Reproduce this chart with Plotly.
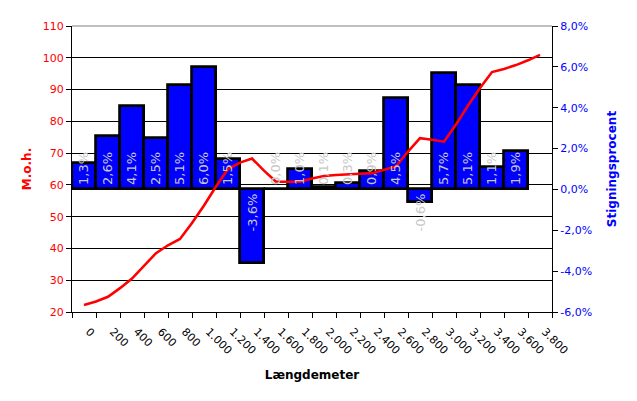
import plotly.graph_objects as go

# --- data ---
tick_meters = [0, 200, 400, 600, 800, 1000, 1200, 1400, 1600, 1800,
               2000, 2200, 2400, 2600, 2800, 3000, 3200, 3400, 3600, 3800]
tick_labels = ["0", "200", "400", "600", "800", "1.000", "1.200", "1.400", "1.600", "1.800",
               "2.000", "2.200", "2.400", "2.600", "2.800", "3.000", "3.200", "3.400", "3.600", "3.800"]

bar_meters = [0, 200, 400, 600, 800, 1000, 1200, 1400, 1600, 1800,
              2000, 2200, 2400, 2600, 2800, 3000, 3200, 3400, 3600]
stigning = [1.3, 2.6, 4.1, 2.5, 5.1, 6.0, 1.5, -3.6, 0.0, 1.0,
            0.1, 0.3, 0.9, 4.5, -0.6, 5.7, 5.1, 1.1, 1.9]

line_meters = [0, 100, 200, 300, 400, 500, 600, 700, 800, 900, 1000, 1100, 1200, 1300,
               1400, 1500, 1600, 1700, 1800, 1900, 2000, 2100, 2200, 2300, 2400, 2500,
               2600, 2700, 2800, 2900, 3000, 3100, 3200, 3300, 3400, 3500, 3600, 3700, 3800]
moh = [22.2, 23.3, 24.8, 27.5, 30.5, 34.5, 38.5, 41.0, 43.0, 48.0, 53.5, 59.5, 65.0, 67.0,
       68.3, 64.5, 61.0, 61.0, 61.0, 62.0, 62.8, 63.1, 63.2, 63.5, 63.7, 64.8,
       65.8, 70.5, 74.7, 74.2, 73.6, 79.0, 85.0, 90.5, 95.5, 96.5, 97.7, 99.2, 100.9]

left_ticks = [20, 30, 40, 50, 60, 70, 80, 90, 100, 110]
right_ticks = [-6, -4, -2, 0, 2, 4, 6, 8]
right_labels = ["-6,0%", "-4,0%", "-2,0%", "0,0%", "2,0%", "4,0%", "6,0%", "8,0%"]

FONT = "DejaVu Sans"

fig = go.Figure()
fig.add_trace(go.Bar(
    x=bar_meters, y=stigning, yaxis="y",
    marker=dict(color="#0000FF", line=dict(color="black", width=2.8)),
    width=200 * 0.97, showlegend=False,
))
fig.add_trace(go.Scatter(
    x=line_meters, y=moh, yaxis="y2", mode="lines",
    line=dict(color="#FF0000", width=2.6), showlegend=False,
))

annotations = []
for m, v in zip(bar_meters, stigning):
    annotations.append(dict(
        x=m, y=0, xref="x", yref="y",
        text=f"{v:.1f}".replace(".", ",") + "%",
        textangle=-90, showarrow=False,
        xanchor="center", yanchor="bottom" if v >= 0 else "top",
        yshift=2 if v >= 0 else -2,
        font=dict(family=FONT, size=13, color="#C8C8C8"),
    ))

fig.update_layout(
    width=629, height=393,
    margin=dict(l=64, r=85, t=18, b=89),
    paper_bgcolor="white", plot_bgcolor="white",
    font=dict(family=FONT, size=11, color="black"),
    bargap=0,
    annotations=annotations,
    shapes=[dict(type="line", xref="paper", yref="paper", x0=0, x1=1, y0=1, y1=1,
                 line=dict(color="#808080", width=1), layer="above")],
    xaxis=dict(
        range=[-100, 3900], tickvals=tick_meters, ticktext=tick_labels,
        tickangle=45, ticks="", showgrid=False, zeroline=False, automargin=False,
        showline=True, linecolor="black", linewidth=1,
        ticklabelstandoff=8, ticklabelshift=5,
        tickfont=dict(family=FONT, size=11, color="black"),
        minor=dict(tickvals=[m - 100 for m in tick_meters] + [3900], ticks="outside",
                   ticklen=5, tickcolor="black", showgrid=False),
        title=dict(text="<b>Længdemeter</b>", font=dict(family=FONT, size=12, color="black"), standoff=14),
    ),
    yaxis=dict(
        side="right", range=[-6, 8], tickvals=right_ticks, ticktext=right_labels,
        showgrid=False, zeroline=False, showline=True, linecolor="black", linewidth=1,
        ticks="outside", ticklen=5, tickcolor="black", automargin=False,
        tickfont=dict(family=FONT, size=11, color="#0000FF"),
        title=dict(text="<b>Stigningsprocent</b>", font=dict(family=FONT, size=12, color="#0000FF"), standoff=16),
    ),
    yaxis2=dict(
        overlaying="y", side="left", range=[20, 110], tickvals=left_ticks,
        showgrid=True, gridcolor="black", gridwidth=1, zeroline=False,
        showline=True, linecolor="black", linewidth=1, automargin=False,
        ticks="outside", ticklen=5, tickcolor="black",
        tickfont=dict(family=FONT, size=11, color="#FF0000"),
        title=dict(text="<b>M.o.h.</b>", font=dict(family=FONT, size=12, color="#FF0000"), standoff=8),
    ),
)

fig.write_html("out.html")
